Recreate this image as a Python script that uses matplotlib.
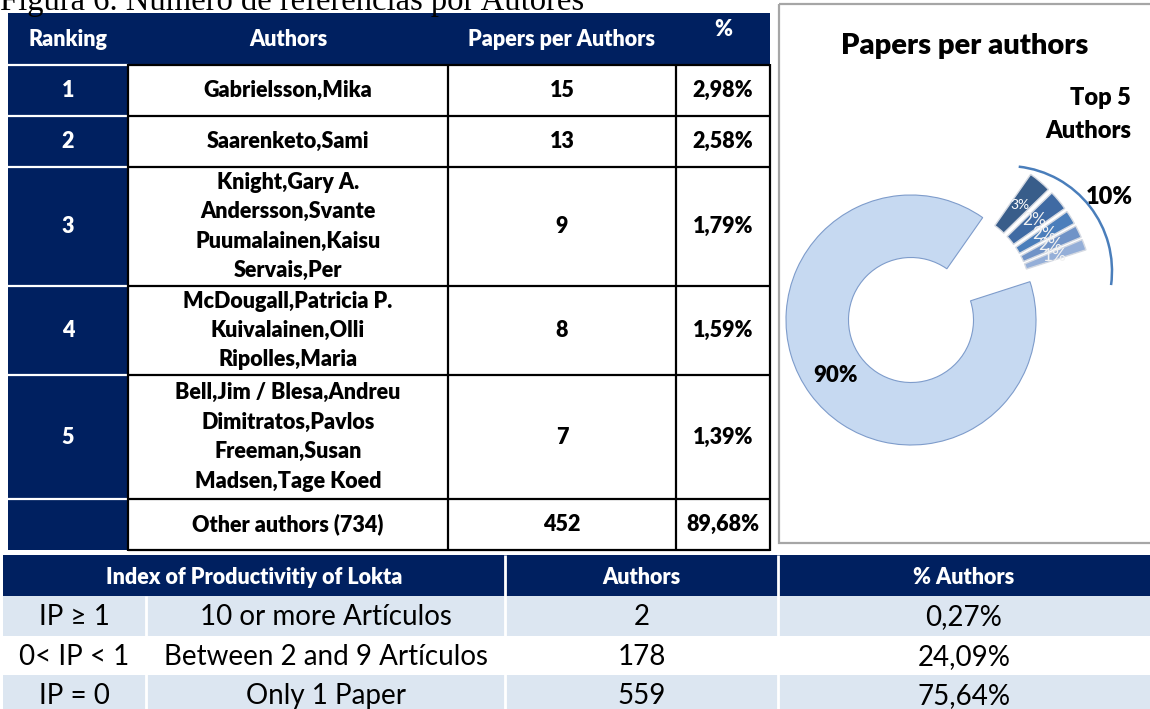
import numpy as np
import matplotlib.pyplot as plt
from matplotlib.patches import Rectangle, Arc

# datos de la tabla de autores
caption = "Figura 6. Número de referencias por Autores"
header = ["Ranking", "Authors", "Papers per Authors", "%"]
ranking = ["1", "2", "3", "4", "5", ""]
authors = ["Gabrielsson,Mika",
           "Saarenketo,Sami",
           "Knight,Gary A.\nAndersson,Svante\nPuumalainen,Kaisu\nServais,Per",
           "McDougall,Patricia P.\nKuivalainen,Olli\nRipolles,Maria",
           "Bell,Jim / Blesa,Andreu\nDimitratos,Pavlos\nFreeman,Susan\nMadsen,Tage Koed",
           "Other authors (734)"]
papers = [15, 13, 9, 8, 7, 452]

# etiquetas del grafico de anillo
pie_title = "Papers per authors"
pie_labels = ["3%", "2%", "2%", "2%", "1%", "90%"]

# tabla de Lotka
lotka_header = ["Index of Productivitiy of Lokta", "Authors", "% Authors"]
lotka_ip = ["IP \u2265 1", "0< IP < 1", "IP = 0"]
lotka_desc = ["10 or more Artículos", "Between 2 and 9 Artículos", "Only 1 Paper"]
lotka_authors = [2, 178, 559]

NAVY = "#002060"
LIGHT = "#DCE6F1"
slice_colors = ["#385D8A", "#3F6AA3", "#4A7EBB", "#7093C7", "#95AFD8", "#C6D9F1"]
FONT = "Lato"
BW = "heavy"

total = sum(papers)
pct = [f"{p / total * 100:.2f}%".replace(".", ",") for p in papers]
lotka_total = sum(lotka_authors)
lotka_pct = [f"{a / lotka_total * 100:.2f}%".replace(".", ",") for a in lotka_authors]

fig = plt.figure(figsize=(11.5, 7.09), dpi=100)
ax = fig.add_axes([0, 0, 1, 1])
ax.set_xlim(0, 1150)
ax.set_ylim(709, 0)
ax.axis("off")


def cell(x0, x1, y0, y1, fc):
    ax.add_patch(Rectangle((x0, y0), x1 - x0, y1 - y0, facecolor=fc, edgecolor="none"))


def multiline(x, yc, txt, step=29.4, **kw):
    lines = txt.split("\n")
    for i, line in enumerate(lines):
        ax.text(x, yc + (i - (len(lines) - 1) / 2) * step, line, ha="center", va="center",
                family=FONT, **kw)


# titulo (cortado arriba, como en la figura original)
ax.text(0, 10, caption, family="Liberation Serif", fontsize=23.5, ha="left", va="baseline")

# ---- tabla superior ----
col_edges = [8, 128, 448, 676, 770]
row_edges = [65, 116, 167, 286, 375, 499, 550]
cell(8, 770, 13, 65, NAVY)
hx = [(col_edges[i] + col_edges[i + 1]) / 2 for i in range(4)]
for i, h in enumerate(header):
    ax.text(hx[i], 30 if h == "%" else 40, h, ha="center", va="center", color="white",
            family=FONT, weight=BW, fontsize=15.5)

for i in range(len(ranking)):
    y0, y1 = row_edges[i], row_edges[i + 1]
    yc = (y0 + y1) / 2
    cell(8, 128, y0, y1, NAVY)
    ax.text(hx[0], yc, ranking[i], ha="center", va="center", color="white",
            family=FONT, weight=BW, fontsize=15.5)
    multiline(hx[1], yc, authors[i], color="black", weight=BW, fontsize=15.5)
    ax.text(hx[2], yc, str(papers[i]), ha="center", va="center", color="black",
            family=FONT, weight=BW, fontsize=15.5)
    ax.text(hx[3], yc, pct[i], ha="center", va="center", color="black",
            family=FONT, weight=BW, fontsize=15.5)

ax.hlines(row_edges[:-1], 8, 128, color="white", lw=1.6)
ax.hlines(row_edges, 128, 770, color="black", lw=1.6)
ax.vlines(col_edges[1:], 64, 551, color="black", lw=1.6)

# ---- marco del grafico ----
ax.add_patch(Rectangle((779, 4), 420, 539, facecolor="none", edgecolor="#A6A6A6", lw=1.6))
ax.text(965, 46, pie_title, ha="center", va="center", family=FONT, weight=BW, fontsize=21)
ax.text(1131, 98, "Top 5", ha="right", va="center", family=FONT, weight=BW, fontsize=17)
ax.text(1131, 131, "Authors", ha="right", va="center", family=FONT, weight=BW, fontsize=17)
top5 = sum(p / total * 100 for p in papers[:5])
ax.text(1109, 197, f"{round(top5)}%", ha="center", va="center", family=FONT,
        weight=BW, fontsize=17)

# ---- grafico de anillo ----
cx, cy, r_px = 911, 320, 125
pax = fig.add_axes([(cx - 2 * r_px) / 1150, (709 - cy - 2 * r_px) / 709,
                    4 * r_px / 1150, 4 * r_px / 709])
wedges, texts = pax.pie(papers, startangle=55, counterclock=False,
                        colors=slice_colors, radius=1, labels=pie_labels, labeldistance=0.75,
                        wedgeprops=dict(width=0.5, linewidth=0.8),
                        textprops=dict(ha="center", va="center", family=FONT))
pax.set_xlim(-2, 2)
pax.set_ylim(-2, 2)

# separar el grupo Top 5 del anillo (desplazamiento comun + separacion por porcion)
t_a = wedges[4].theta1
t_b = wedges[0].theta2
mid = np.deg2rad((t_a + t_b) / 2)
shift = np.array([np.cos(mid), np.sin(mid)]) * 0.30
for w, t in zip(wedges[:5], texts[:5]):
    tm = np.deg2rad((w.theta1 + w.theta2) / 2)
    u = np.array([np.cos(tm), np.sin(tm)])
    c = shift + u * 0.22
    w.set_center(tuple(c))
    w.set_edgecolor("#D4D9E2")
    w.set_linewidth(1.0)
    t.set_position(tuple(c + u * 0.75))
wedges[5].set_edgecolor("#7E9CCB")
texts[0].set(color="white", fontsize=10)
for t in texts[1:5]:
    t.set(color="#F2F2F2", fontsize=12.5)
texts[5].set(color="black", fontsize=16, weight=BW)
pax.add_patch(Arc((0.768, 0.392), 1.68, 1.68, theta1=-7.7, theta2=83.6,
                  color="#4A7EBB", lw=1.8))

# ---- tabla de Lotka ----
bx = [3, 146, 505, 778, 1150]
by = [555, 596, 636, 675, 715]
cell(3, 1150, by[0], by[1], NAVY)
hdr_x = [(bx[0] + bx[2]) / 2, (bx[2] + bx[3]) / 2, (bx[3] + bx[4]) / 2]
for x, h in zip(hdr_x, lotka_header):
    ax.text(x, 577, h, ha="center", va="center", color="white",
            family=FONT, weight=BW, fontsize=15.5)
for i in range(3):
    y0, y1 = by[i + 1], by[i + 2]
    cell(3, 1150, y0, y1, LIGHT if i % 2 == 0 else "white")
    yc = y0 + 21
    row = [lotka_ip[i], lotka_desc[i], str(lotka_authors[i]), lotka_pct[i]]
    for j, val in enumerate(row):
        ax.text((bx[j] + bx[j + 1]) / 2, yc, val, ha="center", va="center", color="black",
                family=FONT, fontsize=20)
ax.vlines([505, 778], by[0], 715, color="white", lw=2)
ax.vlines([146], by[1], 715, color="white", lw=2)

fig.savefig("out.png", dpi=100)
